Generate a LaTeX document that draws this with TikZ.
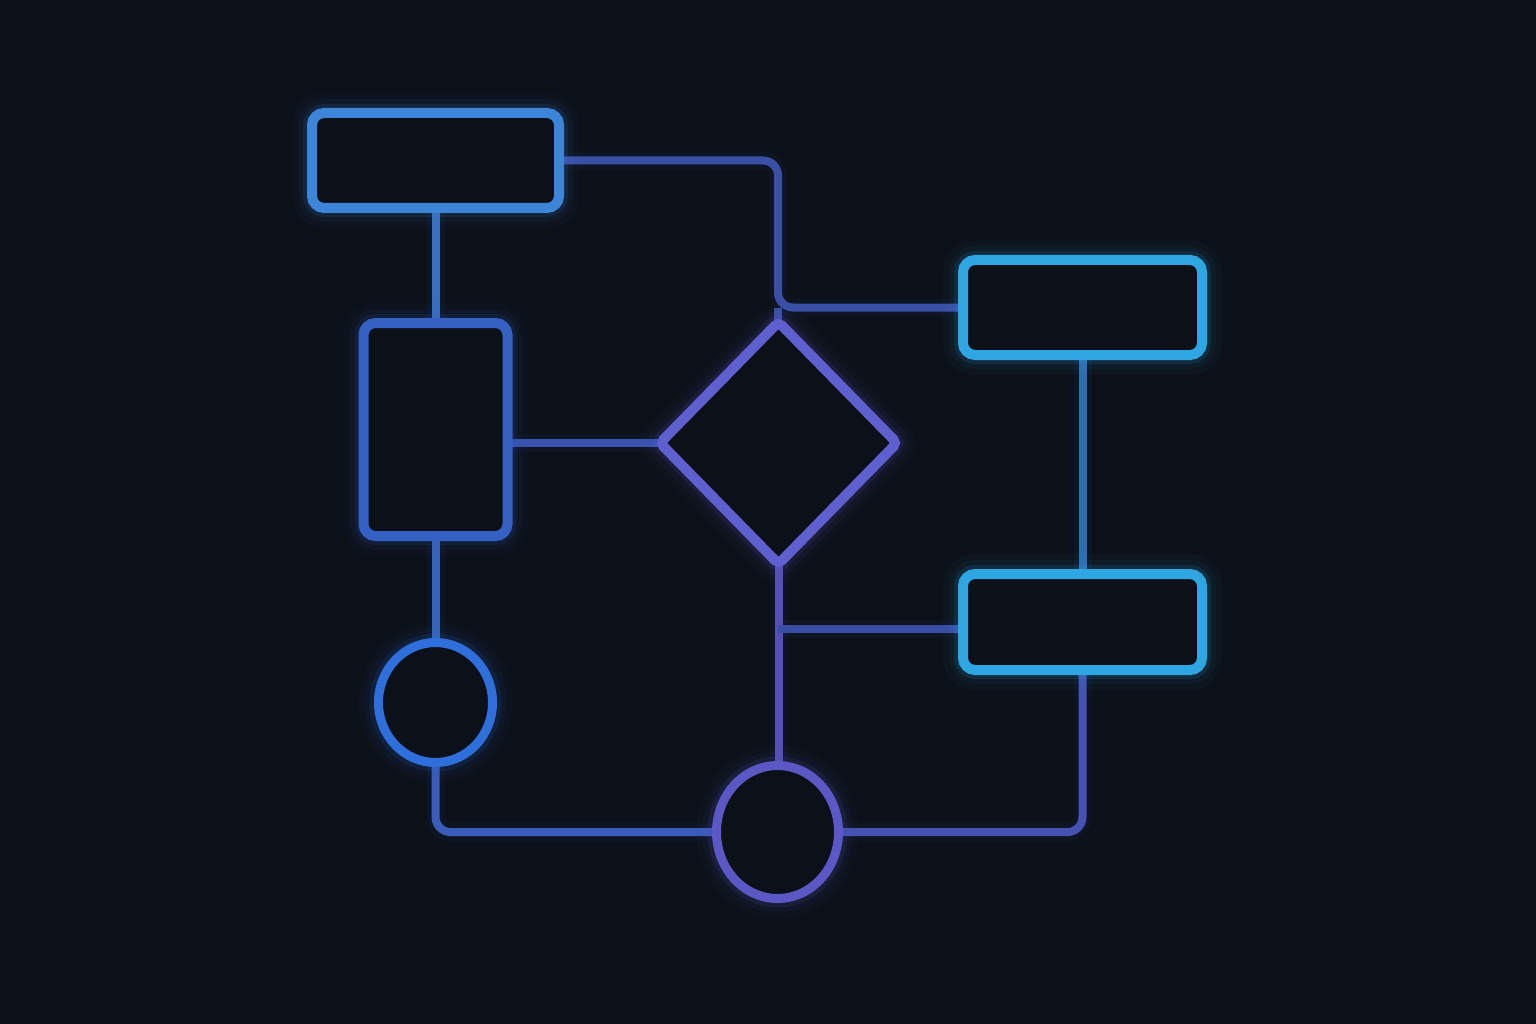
\documentclass[tikz,border=0pt]{standalone}
\usetikzlibrary{shapes.geometric}
\definecolor{bg}{HTML}{0C1119}
\definecolor{cA}{HTML}{3D85D9}
\definecolor{cB}{HTML}{3560C4}
\definecolor{cE}{HTML}{2E6FDC}
\definecolor{cD}{HTML}{5F60CF}
\definecolor{cF}{HTML}{5B58C6}
\definecolor{cC}{HTML}{2EA6E2}
\definecolor{lAB}{HTML}{3670BF}
\definecolor{lAC}{HTML}{3A4FA6}
\definecolor{lBD}{HTML}{3953AE}
\definecolor{lBE}{HTML}{3565BA}
\definecolor{lDF}{HTML}{5350B8}
\definecolor{lDH}{HTML}{3A4DA5}
\definecolor{lCH}{HTML}{2E6DB3}
\definecolor{lEF}{HTML}{3A5CBA}
\definecolor{lFH}{HTML}{4552B2}
\pgfdeclarelayer{bottomlayer}
\pgfdeclarelayer{connlayer}
\pgfsetlayers{bottomlayer,connlayer,main}
\tikzset{
  glow/.style={
    preaction={draw=#1, line width=40pt, draw opacity=0.03},
    preaction={draw=#1, line width=28pt, draw opacity=0.05},
    preaction={draw=#1, line width=18pt, draw opacity=0.12}},
  boxnode/.style={draw=#1, glow=#1, rectangle, rounded corners=12pt, line width=10pt, inner sep=0pt, fill=bg},
  diamnode/.style={draw=#1, glow=#1, diamond, rounded corners=5pt, line width=10pt, inner sep=0pt, fill=bg},
  ellnode/.style={draw=#1, glow=#1, ellipse, line width=9pt, inner sep=0pt, fill=bg},
  conn/.style={draw=#1, line width=8pt, rounded corners=15pt,
    preaction={draw=#1, line width=18pt, draw opacity=0.06}}
}
\begin{document}
\begin{tikzpicture}[x=1pt,y=-1pt]
\begin{pgfonlayer}{bottomlayer}
\fill[bg] (0,0) rectangle (1536,1024);
\end{pgfonlayer}
\useasboundingbox (0,0) rectangle (1536,1024);
\coordinate (j1) at (778,307.5);
\coordinate (j2) at (778,629);
\node[boxnode=cA, minimum width=247pt, minimum height=95pt] (A) at (435.5,160.5) {};
\node[boxnode=cB, minimum width=144pt, minimum height=213pt] (B) at (435.5,429.5) {};
\node[boxnode=cC, minimum width=239pt, minimum height=95pt] (C) at (1082.5,307.5) {};
\node[boxnode=cC, minimum width=239pt, minimum height=96pt] (H) at (1082.5,622) {};
\node[diamnode=cD, minimum width=241pt, minimum height=246pt] (D) at (778.5,443) {};
\node[ellnode=cE, minimum width=114pt, minimum height=120pt] (E) at (435.5,702.5) {};
\node[ellnode=cF, minimum width=122pt, minimum height=133pt] (F) at (777.5,832) {};
\begin{pgfonlayer}{connlayer}
\draw[conn=lAC] (A.center) -| (j1) -- (C.center);
\draw[conn=lAC, rounded corners=0pt] (j1) -- (j1 |- D.center);
\draw[conn=lAB] (A.center) -- (B.center);
\draw[conn=lBD] (B.center |- D.center) -- (D.center);
\draw[conn=lBE] (B.center) -- (E.center);
\draw[conn=lEF] (E.center) |- (F.center);
\draw[conn=lFH] (F.center) -| (H.center);
\draw[conn=lDF] (D.center) -- (D.center |- F.center);
\draw[conn=lDH] (j2) -- (j2 -| H.center);
\draw[conn=lCH] (C.center) -- (H.center);
\end{pgfonlayer}
\end{tikzpicture}
\end{document}
